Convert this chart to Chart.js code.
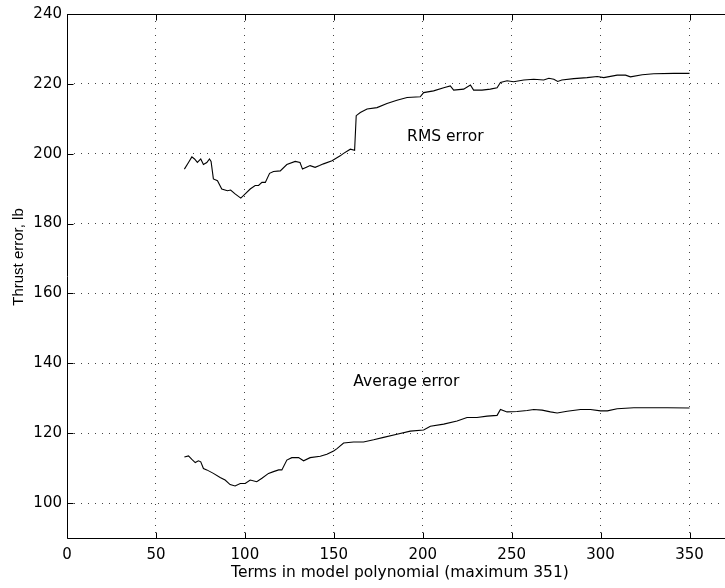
<!DOCTYPE html>
<html>
<head>
<meta charset="utf-8">
<style>
html,body{margin:0;padding:0;overflow:hidden;background:#fff;width:725px;height:588px}
#wrap{width:760px;height:588px}
</style>
<script src="https://cdn.jsdelivr.net/npm/chart.js@4"></script>
</head>
<body>
<div id="wrap"><canvas id="c" width="760" height="588"></canvas></div>
<script>
const xTicks = [0, 50, 100, 150, 200, 250, 300, 350];
const yTicks = [100, 120, 140, 160, 180, 200, 220, 240];

const rmsTerms = [66,68.3,70.2,71.7,73.3,75.2,76.7,78.6,80.1,81,82.3,84.6,87,90.2,92,94.5,97.7,100.2,103,105.8,107.7,109.6,111.5,113.9,116.1,119.9,123.6,128.3,131,132.4,134.9,136.7,139.5,142,144.2,149,153.6,155.5,159.3,161.7,162.6,164.9,168.7,174.3,179.9,185.5,191.2,198.6,200.5,206.1,211.8,215.5,217.4,223,226.8,228.6,233.3,238,241.8,243.7,247.4,251.1,256.8,262.4,268,270.9,273.7,275.9,278.2,284.9,292.4,298.1,301.8,309.3,314,316.8,323.4,329.9,341.2,350];
const rmsValues = [195.6,197.5,199.1,198.5,197.5,198.5,196.9,197.5,198.5,197.8,192.8,192.3,189.9,189.4,189.6,188.5,187.3,188.5,189.9,190.9,190.9,191.8,191.8,194.4,194.9,195.1,196.9,197.8,197.5,195.6,196.2,196.6,196.1,196.6,197.1,198,199.4,200.1,201.3,201,210.9,211.8,212.8,213.2,214.4,215.3,216.1,216.3,217.5,218,218.9,219.4,218.2,218.5,219.7,218.2,218.2,218.5,218.9,220.4,220.9,220.6,221.1,221.3,221.1,221.6,221.3,220.7,221.1,221.5,221.8,222.1,221.8,222.5,222.5,222,222.6,222.9,223,223];

const avgTerms = [66,68.3,70.2,72.1,73.9,75.2,76.7,78.6,82.3,86.1,88.9,91.7,94.5,97.4,100.2,103,106.7,109.6,113.3,116.1,119,120.8,123.6,126.4,130.2,133,136.7,142.4,146.1,149.9,151.8,155.5,161.1,166.7,172.4,178,185.5,193,200.5,204.3,211.8,219.3,224.9,230.5,236.2,241.8,243.7,247.4,253,258.7,262.4,267.1,271.8,275.6,281.2,288.7,294.3,300,303.8,309.3,318.7,328.1,337.5,350];
const avgValues = [113.2,113.5,112.5,111.6,112.1,111.8,109.9,109.5,108.5,107.3,106.6,105.3,104.9,105.6,105.6,106.6,106.1,107.1,108.5,109,109.5,109.5,112.3,113,113,112.1,113,113.4,114,114.9,115.6,117.2,117.5,117.5,118.1,118.8,119.7,120.6,120.9,122,122.6,123.5,124.5,124.5,124.9,125.1,126.8,126.1,126.2,126.5,126.8,126.6,126.1,125.8,126.3,126.8,126.8,126.4,126.4,127,127.3,127.3,127.3,127.2];

const xTitle = 'Terms in model polynomial (maximum 351)';
const yTitle = 'Thrust error, lb';
const notes = [
  {text: 'RMS error', x: 212.7, y: 204.9},
  {text: 'Average error', x: 190.8, y: 134.6}
];

const FONT = '"DejaVu Sans", "Liberation Sans", Arial, sans-serif';
const YFONT = '"Liberation Sans", Arial, Helvetica, sans-serif';

const framePlugin = {
  id: 'frame',
  afterDraw(chart) {
    const {ctx, chartArea: a, scales: {x, y}} = chart;
    ctx.save();
    ctx.strokeStyle = '#000';
    ctx.lineWidth = 1;
    ctx.setLineDash([]);
    const L = Math.round(a.left) + 0.5, T = Math.round(a.top) + 0.5, B = Math.round(a.bottom) + 0.5, R = Math.round(a.right) + 0.5;
    ctx.beginPath();
    ctx.moveTo(L, T); ctx.lineTo(R, T);
    ctx.moveTo(L, T); ctx.lineTo(L, B);
    ctx.moveTo(L, B); ctx.lineTo(R, B);
    ctx.moveTo(R, T); ctx.lineTo(R, B);
    const tl = 6;
    xTicks.forEach(v => {
      const px = Math.round(x.getPixelForValue(v)) + 0.5;
      ctx.moveTo(px, B); ctx.lineTo(px, B - tl);
      ctx.moveTo(px, T); ctx.lineTo(px, T + tl);
    });
    yTicks.forEach(v => {
      const py = Math.round(y.getPixelForValue(v)) + 0.5;
      ctx.moveTo(L, py); ctx.lineTo(L + tl, py);
      ctx.moveTo(R, py); ctx.lineTo(R - tl, py);
    });
    ctx.stroke();

    ctx.fillStyle = '#000';
    ctx.font = '15.5px ' + FONT;
    ctx.textAlign = 'center';
    ctx.textBaseline = 'middle';
    notes.forEach(n => {
      ctx.fillText(n.text, x.getPixelForValue(n.x), y.getPixelForValue(n.y));
    });
    ctx.fillText(xTitle, 400, 573);
    ctx.font = '15px ' + YFONT;
    ctx.translate(19, 257);
    ctx.rotate(-Math.PI / 2);
    ctx.fillText(yTitle, 0, 0);
    ctx.restore();
  }
};

new Chart(document.getElementById('c'), {
  type: 'line',
  data: {
    datasets: [
      {
        label: 'RMS error',
        data: rmsTerms.map((t, i) => ({x: t, y: rmsValues[i]})),
        borderColor: '#000', borderWidth: 1.1, pointRadius: 0, fill: false, tension: 0
      },
      {
        label: 'Average error',
        data: avgTerms.map((t, i) => ({x: t, y: avgValues[i]})),
        borderColor: '#000', borderWidth: 1.1, pointRadius: 0, fill: false, tension: 0
      }
    ]
  },
  options: {
    responsive: false,
    animation: false,
    layout: {padding: {left: 0, top: 13, right: 26, bottom: 0}},
    plugins: {legend: {display: false}, tooltip: {enabled: false}},
    scales: {
      x: {
        type: 'linear', min: 0, max: 375,
        afterBuildTicks: s => { s.ticks = xTicks.map(v => ({value: v})); },
        afterFit: s => { s.height = 50; },
        grid: {color: '#444', lineWidth: 1, drawTicks: false},
        border: {display: false, dash: [1, 6]},
        ticks: {color: '#000', font: {family: FONT, size: 15}, padding: 8, maxRotation: 0, autoSkip: false}
      },
      y: {
        type: 'linear', min: 90, max: 240,
        afterBuildTicks: s => { s.ticks = yTicks.map(v => ({value: v})); },
        afterFit: s => { s.width = 67; },
        grid: {color: '#444', lineWidth: 1, drawTicks: false},
        border: {display: false, dash: [1, 6]},
        ticks: {color: '#000', font: {family: FONT, size: 15}, padding: 5, autoSkip: false}
      }
    }
  },
  plugins: [framePlugin]
});
</script>
</body>
</html>
